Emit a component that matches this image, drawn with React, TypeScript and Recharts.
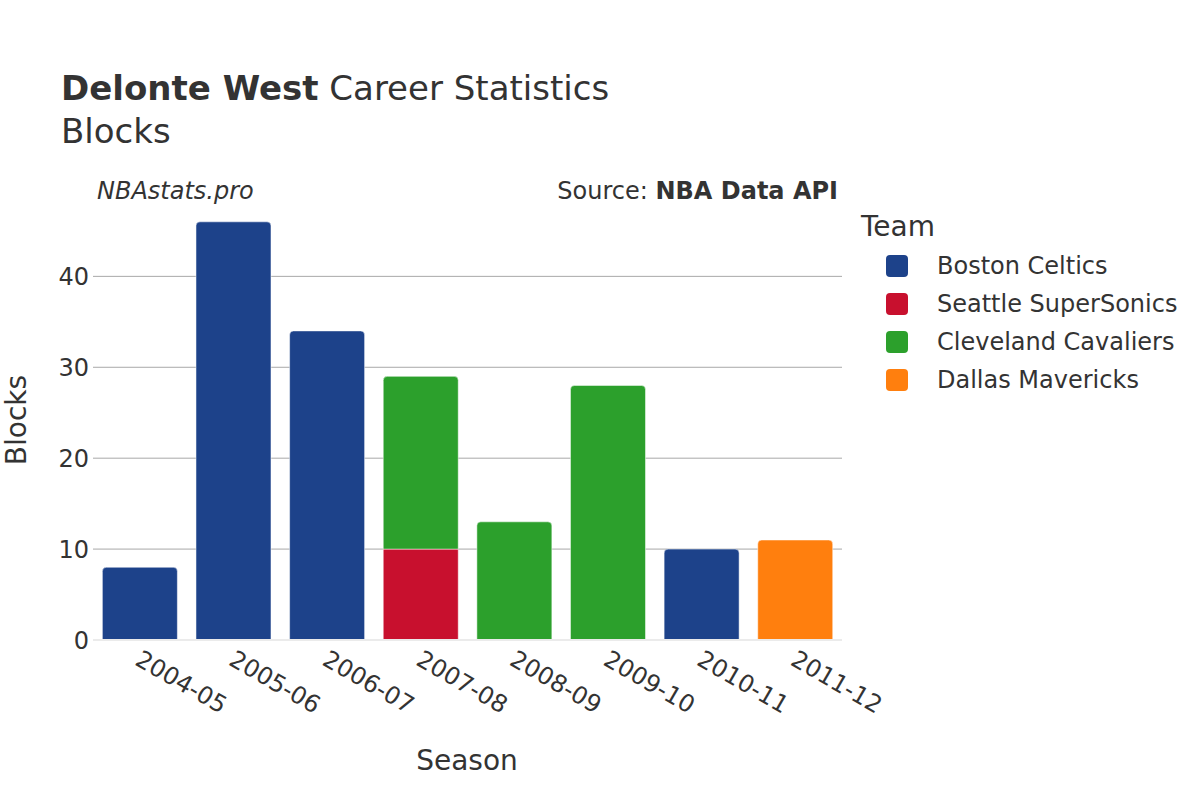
import { BarChart, Bar, XAxis, YAxis, CartesianGrid, ReferenceLine } from 'recharts';

const seasons = ['2004-05', '2005-06', '2006-07', '2007-08', '2008-09', '2009-10', '2010-11', '2011-12'];

const bostonCeltics = [8, 46, 34, null, null, null, 10, null];
const seattleSuperSonics = [null, null, null, 10, null, null, null, null];
const clevelandCavaliers = [null, null, null, 19, 13, 28, null, null];
const dallasMavericks = [null, null, null, null, null, null, null, 11];

const teams = ['Boston Celtics', 'Seattle SuperSonics', 'Cleveland Cavaliers', 'Dallas Mavericks'];
const teamColors = ['#1d428a', '#c8102e', '#2ca02c', '#ff7f0e'];

const yTicks = [0, 10, 20, 30, 40];

const FONT = '"DejaVu Sans", Verdana, sans-serif';
const TEXT = '#333333';

const data = seasons.map((season, i) => ({
  season,
  boston: bostonCeltics[i],
  seattle: seattleSuperSonics[i],
  cleveland: clevelandCavaliers[i],
  dallas: dallasMavericks[i],
}));

const SeasonTick = (props: any) => {
  const { x, y, payload } = props;
  return (
    <text
      transform={`translate(${x - 6},${y + 24}) rotate(30)`}
      textAnchor="start"
      fontSize={24}
      fontFamily={FONT}
      fill={TEXT}
    >
      {payload.value}
    </text>
  );
};

const App = () => {
  return (
    <div style={{ position: 'absolute', left: 0, top: 0, width: 1200, height: 800, background: '#fff' }}>
      <BarChart
        width={1200}
        height={800}
        data={data}
        margin={{ top: 200, right: 358, bottom: 100, left: 33 }}
        barCategoryGap="10%"
      >
        <CartesianGrid vertical={false} stroke="#a8a8a8" strokeWidth={1} syncWithTicks />
        <XAxis
          dataKey="season"
          height={60}
          axisLine={false}
          tickLine={false}
          tickSize={0}
          tickMargin={0}
          interval={0}
          tick={<SeasonTick />}
        />
        <YAxis
          width={60}
          domain={[0, 48.4]}
          ticks={yTicks}
          axisLine={false}
          tickLine={false}
          tickSize={0}
          tickMargin={4}
          tick={{ fontSize: 24, fontFamily: FONT, fill: TEXT }}
        />
        <ReferenceLine y={0} stroke="#ebebeb" strokeWidth={2} />
        <Bar dataKey="boston" stackId="a" fill={teamColors[0]} stroke="#ffffff" strokeWidth={0.5} radius={[4, 4, 0, 0]} isAnimationActive={false} />
        <Bar dataKey="seattle" stackId="a" fill={teamColors[1]} stroke="#ffffff" strokeWidth={0.5} isAnimationActive={false} />
        <Bar dataKey="cleveland" stackId="a" fill={teamColors[2]} stroke="#ffffff" strokeWidth={0.5} radius={[4, 4, 0, 0]} isAnimationActive={false} />
        <Bar dataKey="dallas" stackId="a" fill={teamColors[3]} stroke="#ffffff" strokeWidth={0.5} radius={[4, 4, 0, 0]} isAnimationActive={false} />
      </BarChart>
      <svg
        width={1200}
        height={800}
        style={{ position: 'absolute', left: 0, top: 0, pointerEvents: 'none' }}
        fontFamily={FONT}
        fill={TEXT}
      >
        <text x={61} y={100} fontSize={34}>
          <tspan fontWeight="bold">Delonte West</tspan>
          <tspan> Career Statistics</tspan>
        </text>
        <text x={61} y={143} fontSize={34}>Blocks</text>
        <text x={97} y={199} fontSize={24} fontStyle="italic">NBAstats.pro</text>
        <text x={838} y={199} fontSize={24} textAnchor="end">
          <tspan>Source: </tspan>
          <tspan fontWeight="bold">NBA Data API</tspan>
        </text>
        <text x={467} y={770} fontSize={28} textAnchor="middle">Season</text>
        <text transform="translate(26,420) rotate(-90)" fontSize={28} textAnchor="middle">Blocks</text>
        <text x={861} y={236} fontSize={28}>Team</text>
        {teams.map((team, i) => (
          <g key={team}>
            <rect x={886} y={255 + i * 38} width={22} height={22} rx={4} fill={teamColors[i]} />
            <text x={937} y={266 + i * 38} dy="0.35em" fontSize={24}>{team}</text>
          </g>
        ))}
      </svg>
    </div>
  );
};

export default App;
